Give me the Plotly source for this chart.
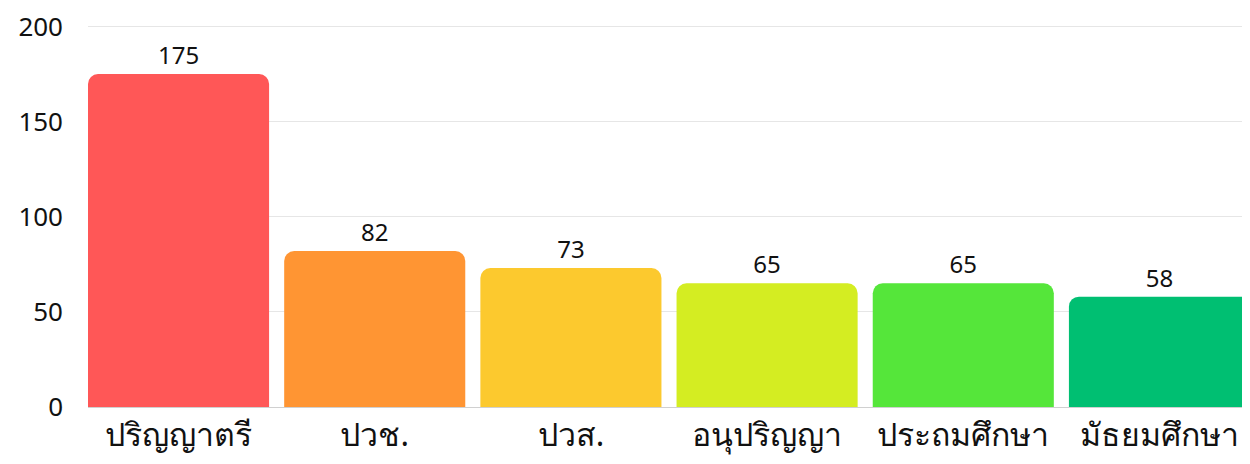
import plotly.graph_objects as go

categories = ["ปริญญาตรี", "ปวช.", "ปวส.", "อนุปริญญา", "ประถมศึกษา", "มัธยมศึกษา"]
values = [175, 82, 73, 65, 65, 58]
colors = ["#FF5757", "#FF9533", "#FCC92E", "#D4ED22", "#55E63A", "#00BF72"]
y_ticks = [0, 50, 100, 150, 200]

fig = go.Figure(go.Bar(
    x=categories, y=values,
    marker=dict(color=colors, cornerradius=10, line=dict(width=0)),
    width=0.923,
    text=[str(v) for v in values], textposition="outside",
    textfont=dict(size=24, color="#111"),
    cliponaxis=False,
))
fig.update_layout(
    width=1242, height=456,
    margin=dict(l=80, r=0, t=7, b=57),
    paper_bgcolor="white", plot_bgcolor="white",
    font=dict(family="Noto Sans, Noto Sans CJK SC, sans-serif", color="#111"),
    showlegend=False,
    xaxis=dict(range=[-0.4615, 5.4615], tickfont=dict(size=32), showgrid=False,
               showline=False, ticks="", ticklabelstandoff=6),
    yaxis=dict(range=[0, 205], tickvals=y_ticks, tickfont=dict(size=26),
               gridcolor="#e6e6e6", gridwidth=1, zeroline=True, zerolinecolor="#d0d0d0",
               zerolinewidth=1, ticklabelstandoff=24, ticklabeloverflow="allow"),
)
fig.write_html("out.html")
